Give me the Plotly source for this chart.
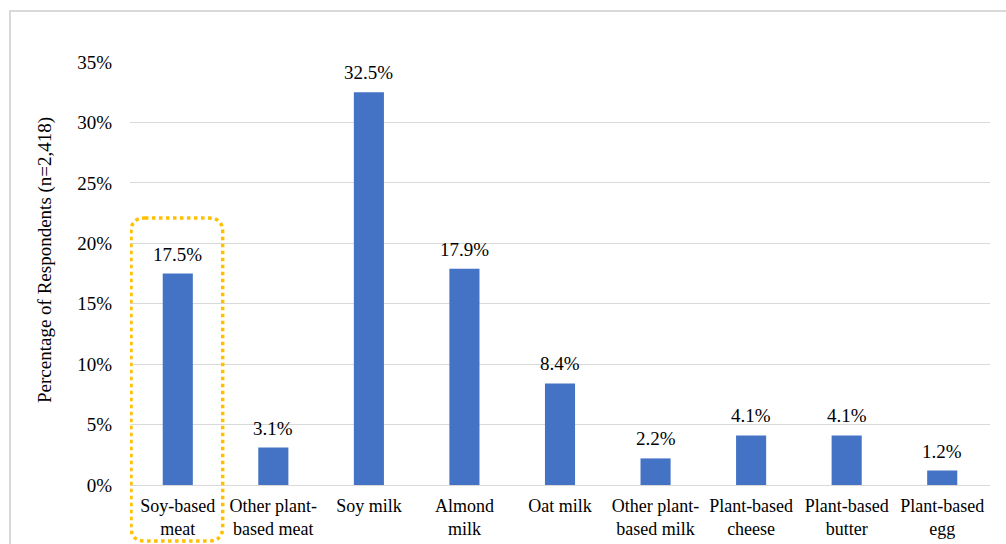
import plotly.graph_objects as go

categories = ["Soy-based<br>meat", "Other plant-<br>based meat", "Soy milk", "Almond<br>milk",
              "Oat milk", "Other plant-<br>based milk", "Plant-based<br>cheese",
              "Plant-based<br>butter", "Plant-based<br>egg"]
values = [0.175, 0.031, 0.325, 0.179, 0.084, 0.022, 0.041, 0.041, 0.012]
labels = ["17.5%", "3.1%", "32.5%", "17.9%", "8.4%", "2.2%", "4.1%", "4.1%", "1.2%"]
y_ticks = [0, 0.05, 0.10, 0.15, 0.20, 0.25, 0.30, 0.35]
y_ticklabels = ["0%", "5%", "10%", "15%", "20%", "25%", "30%", "35%"]

FONT = "Liberation Serif"

xs = list(range(len(categories)))
fig = go.Figure(go.Bar(
    x=xs, y=values,
    marker=dict(color="#4472C4", line=dict(width=0)),
    cliponaxis=False,
))

W, H = 1006, 544
L, R, T, B = 130, 16, 62, 59
pw, ph = W - L - R, H - T - B

fig.update_layout(
    template="none",
    width=W, height=H, margin=dict(l=L, r=R, t=T, b=B),
    paper_bgcolor="white", plot_bgcolor="white", bargap=0.685, showlegend=False,
    xaxis=dict(tickmode="array", tickvals=xs, ticktext=categories,
               range=[-0.5, len(categories) - 0.5], showgrid=False, zeroline=False,
               showline=False, ticks="outside", ticklen=4, tickcolor="rgba(0,0,0,0)",
               tickfont=dict(family=FONT, size=18, color="black")),
    yaxis=dict(range=[0, 0.35], tickvals=y_ticks, ticktext=y_ticklabels,
               showgrid=True, gridcolor="#d9d9d9", gridwidth=1, zeroline=True,
               zerolinecolor="#d9d9d9", zerolinewidth=1, showline=False,
               ticks="outside", ticklen=13, tickcolor="rgba(0,0,0,0)",
               tickfont=dict(family=FONT, size=19, color="black")),
)

# data labels above bars
for xi, v, t in zip(xs, values, labels):
    fig.add_annotation(x=xi, y=v, text=t, xref="x", yref="y", showarrow=False,
                       yanchor="bottom", yshift=7,
                       font=dict(family=FONT, size=19, color="black"))

# Y axis title
fig.add_annotation(text="Percentage of Respondents (n=2,418)", textangle=-90,
                   xref="paper", yref="paper", x=(45 - L) / pw, xanchor="center",
                   y=(H - B - 260) / ph, yanchor="middle",
                   showarrow=False, font=dict(family=FONT, size=19, color="black"))

# Cut-off title at the very top
fig.add_annotation(text="Products Consumed within Plant-based Diets",
                   xref="paper", yref="paper", x=(45 - L) / pw, xanchor="left",
                   y=(H - B + 9) / ph, yanchor="middle",
                   showarrow=False, font=dict(family=FONT, size=20, color="#404040"))

# outer chart frame
fig.add_shape(type="rect", xref="paper", yref="paper",
              x0=(10 - L) / pw, x1=1.2, y0=-0.5, y1=(H - B - 11) / ph,
              line=dict(color="#d9d9d9", width=2), fillcolor="rgba(0,0,0,0)", layer="below")

# dotted highlight box around first category (rounded corners)
x0, x1 = -0.49, 0.47
yt = (H - B - 218) / ph
yb = (H - B - 541) / ph
rx = 14 / (pw / len(categories))
ry = 14 / ph
path = (f"M {x0 + rx},{yt} L {x1 - rx},{yt} Q {x1},{yt} {x1},{yt - ry} "
        f"L {x1},{yb + ry} Q {x1},{yb} {x1 - rx},{yb} L {x0 + rx},{yb} "
        f"Q {x0},{yb} {x0},{yb + ry} L {x0},{yt - ry} Q {x0},{yt} {x0 + rx},{yt} Z")
fig.add_shape(type="path", xref="x", yref="paper", path=path,
              line=dict(color="#FFC000", width=3.5, dash="dot"))

fig.write_html("out.html")
